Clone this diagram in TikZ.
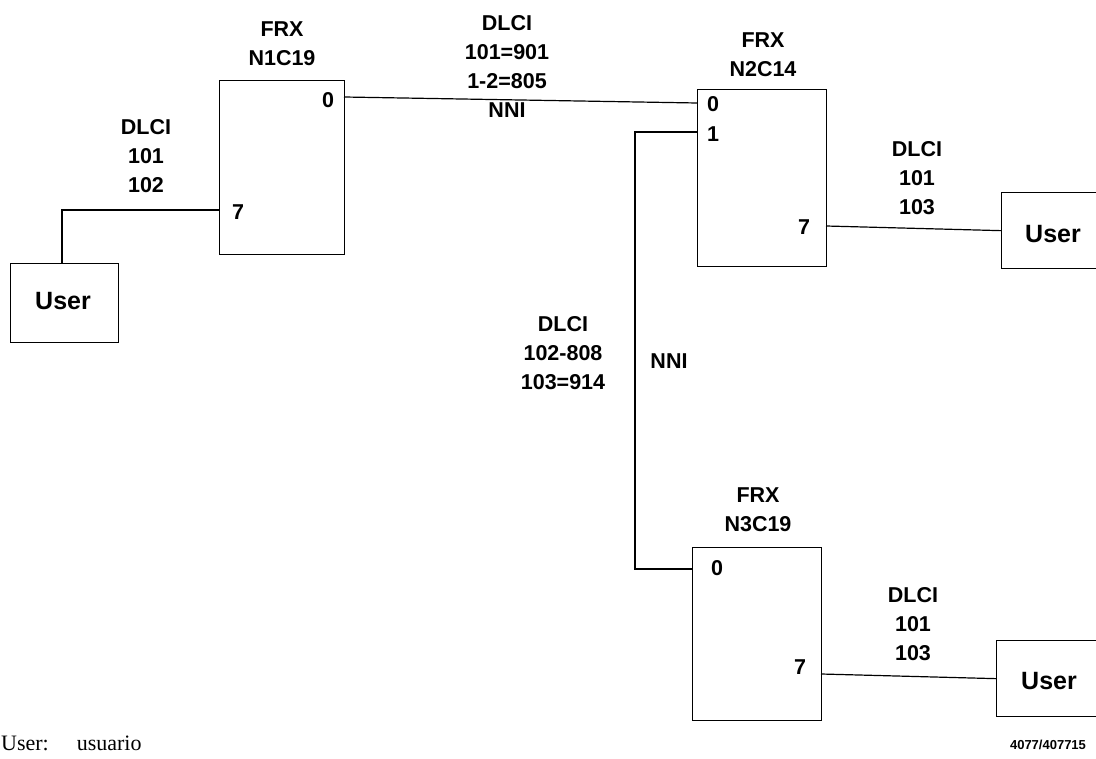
\documentclass[tikz,border=0pt]{standalone}
\usepackage{fontspec}
\setmainfont{Liberation Sans}
\newfontfamily\serifx{Liberation Serif}
\begin{document}
\begin{tikzpicture}[x=1pt,y=-1pt,
  box/.style={draw, line width=1.3pt, rectangle, inner sep=0pt, anchor=north west},
  lbl/.style={font=\fontsize{21.5}{29}\selectfont\bfseries, align=center, inner sep=0pt},
  port/.style={font=\fontsize{21.5}{24}\selectfont\bfseries, inner sep=0pt},
  usr/.style={font=\fontsize{25}{28}\selectfont\bfseries, inner sep=0pt},
  wire/.style={line width=1.2pt}]
\useasboundingbox (0,0) rectangle (1096,759);

% FRX boxes
\node[box, minimum width=125pt, minimum height=174pt] (n1) at (219,80) {};
\node[box, minimum width=129pt, minimum height=177pt] (n2) at (697,89) {};
\node[box, minimum width=129pt, minimum height=173pt] (n3) at (692,547) {};

% titles
\node[lbl] (t1) at (282,44) {FRX\\N1C19};
\node[lbl] (t2) at (763,55) {FRX\\N2C14};
\node[lbl] (t3) at (758,510) {FRX\\N3C19};

% user boxes
\node[box, minimum width=108pt, minimum height=79pt] (u1) at (10,263) {};
\node[box, minimum width=110pt, minimum height=76pt] (u2) at (1001,192) {};
\node[box, minimum width=110pt, minimum height=76pt] (u3) at (996,640) {};
\node[usr] (u1t) at (63,301) {User};
\node[usr] (u2t) at (1053,234) {User};
\node[usr] (u3t) at (1049,681) {User};

% port labels
\node[port] (n1l0) at (328,100) {0};
\node[port] (n1l7) at (238,212) {7};
\node[port] (n2l0) at (713,104) {0};
\node[port] (n2l1) at (713,134) {1};
\node[port] (n2l7) at (804,227) {7};
\node[port] (n3l0) at (717,568) {0};
\node[port] (n3l7) at (800,667) {7};

% port coordinates
\coordinate (n1p0) at (344,97);
\coordinate (n1p7) at (219,210);
\coordinate (n2p0) at (697,103);
\coordinate (n2p1) at (697,132);
\coordinate (n2p7) at (826,226);
\coordinate (n3p0) at (692,569);
\coordinate (n3p7) at (821,674);

% connectors
\draw[wire] (u1.north -| 62,0) |- (n1p7);
\draw[wire] (n1p0) -- (n2p0);
\draw[wire] (n2p1) -- ++(-62,0) |- (n3p0);
\draw[wire] (n2p7) -- (u2.west);
\draw[wire] (n3p7) -- (u3.west);

% DLCI labels
\node[lbl] (d1) at (146,156) {DLCI\\101\\102};
\node[lbl] (d2) at (507,66) {DLCI\\101=901\\1-2=805\\NNI};
\node[lbl] (d3) at (563,353) {DLCI\\102-808\\103=914};
\node[lbl] (nni) at (669,361) {NNI};
\node[lbl] (d4) at (917,178) {DLCI\\101\\103};
\node[lbl] (d5) at (913,624) {DLCI\\101\\103};

% footnotes
\node[anchor=base west, inner sep=0pt, font=\serifx\fontsize{22}{26}\selectfont] (fn) at (1,750) {User:\hspace{28pt}usuario};
\node[inner sep=0pt, font=\fontsize{13}{15}\selectfont\bfseries] (num) at (1048,745) {4077/407715};
\end{tikzpicture}
\end{document}
